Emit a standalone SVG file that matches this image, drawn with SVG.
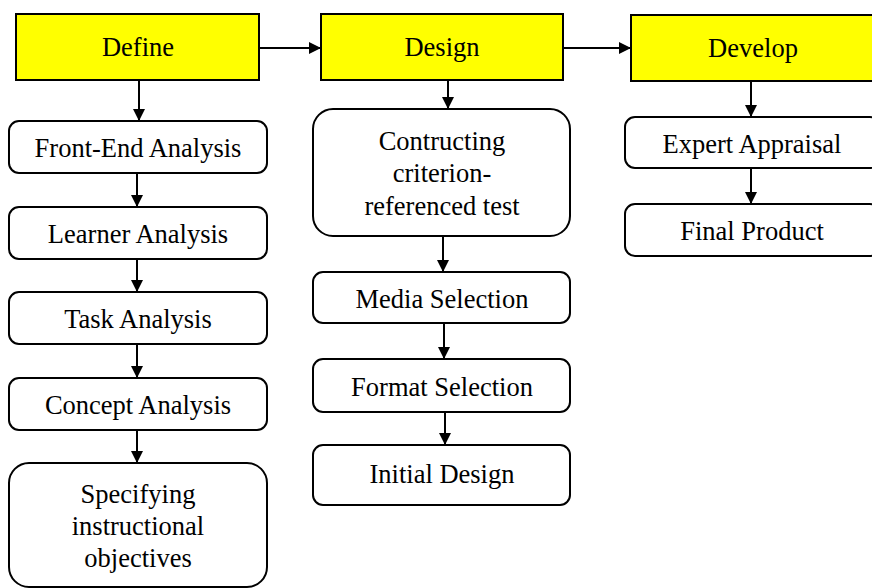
<svg xmlns="http://www.w3.org/2000/svg" width="872" height="588" viewBox="0 0 872 588">
<defs>
<marker id="ah" markerWidth="12" markerHeight="12" refX="12" refY="6" orient="auto" markerUnits="userSpaceOnUse">
<path d="M0,0 L12,6 L0,12 Z" fill="#000"/>
</marker>
<style>
.phase{fill:#ffff00;stroke:#000;stroke-width:2}
.box{fill:#fff;stroke:#000;stroke-width:2}
.t{font-size:26.5px;fill:#000;text-anchor:middle}
.c{stroke:#000;stroke-width:2;fill:none;marker-end:url(#ah)}
</style>
</defs>
<rect width="872" height="588" fill="#fff"/>
<g id="connectors">
<line class="c" x1="259" y1="48" x2="321" y2="48"/>
<line class="c" x1="563" y1="48" x2="631" y2="48"/>
<line class="c" x1="139" y1="80" x2="139" y2="121"/>
<line class="c" x1="137" y1="173" x2="137" y2="207"/>
<line class="c" x1="137" y1="259" x2="137" y2="292"/>
<line class="c" x1="137" y1="344" x2="137" y2="378"/>
<line class="c" x1="137" y1="430" x2="137" y2="463"/>
<line class="c" x1="448" y1="80" x2="448" y2="109"/>
<line class="c" x1="443" y1="236" x2="443" y2="272"/>
<line class="c" x1="444" y1="323" x2="444" y2="359"/>
<line class="c" x1="445" y1="412" x2="445" y2="445"/>
<line class="c" x1="751" y1="81" x2="751" y2="117"/>
<line class="c" x1="751" y1="168" x2="751" y2="204"/>
</g>
<g font-family="'Liberation Serif', 'Times New Roman', 'DejaVu Serif', serif">
<g id="define"><rect class="phase" x="16" y="14" width="243" height="66"/><text class="t" x="138" y="56">Define</text></g>
<g id="design"><rect class="phase" x="321" y="14" width="242" height="66"/><text class="t" x="442" y="56">Design</text></g>
<g id="develop"><rect class="phase" x="631" y="15" width="248" height="66"/><text class="t" x="753" y="57">Develop</text></g>
<g id="front-end"><rect class="box" x="9" y="121" width="258" height="52" rx="10"/><text class="t" x="138" y="157">Front-End Analysis</text></g>
<g id="learner"><rect class="box" x="9" y="207" width="258" height="52" rx="10"/><text class="t" x="138" y="243">Learner Analysis</text></g>
<g id="task"><rect class="box" x="9" y="292" width="258" height="52" rx="10"/><text class="t" x="138" y="328">Task Analysis</text></g>
<g id="concept"><rect class="box" x="9" y="378" width="258" height="52" rx="10"/><text class="t" x="138" y="414">Concept Analysis</text></g>
<g id="specifying"><rect class="box" x="9" y="463" width="258" height="124" rx="20"/><text class="t" x="138" y="503">Specifying</text><text class="t" x="138" y="535">instructional</text><text class="t" x="138" y="567">objectives</text></g>
<g id="constructing"><rect class="box" x="313" y="109" width="257" height="127" rx="20"/><text class="t" x="442" y="150">Contructing</text><text class="t" x="442" y="182">criterion-</text><text class="t" x="442" y="215">referenced test</text></g>
<g id="media"><rect class="box" x="313" y="272" width="257" height="51" rx="10"/><text class="t" x="442" y="308">Media Selection</text></g>
<g id="format"><rect class="box" x="313" y="359" width="257" height="53" rx="10"/><text class="t" x="442" y="396">Format Selection</text></g>
<g id="initial"><rect class="box" x="313" y="445" width="257" height="60" rx="10"/><text class="t" x="442" y="483">Initial Design</text></g>
<g id="expert"><rect class="box" x="625" y="117" width="255" height="51" rx="10"/><text class="t" x="752" y="153">Expert Appraisal</text></g>
<g id="final"><rect class="box" x="625" y="204" width="255" height="52" rx="10"/><text class="t" x="752" y="240">Final Product</text></g>
</g>
</svg>
